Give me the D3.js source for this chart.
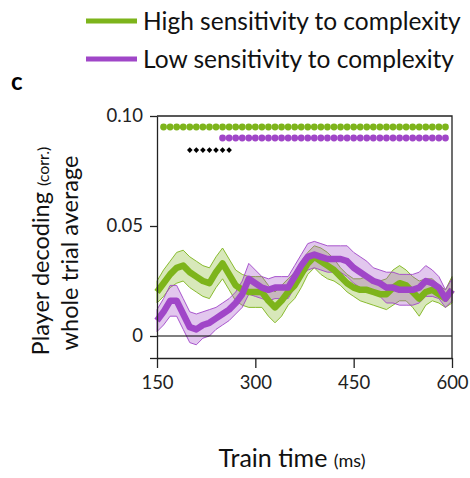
<!DOCTYPE html>
<html>
<head>
<meta charset="utf-8">
<script src="https://cdn.jsdelivr.net/npm/d3@7"></script>
<style>
  body { margin: 0; background: #fff; }
  svg { display: block; font-family: Lato, "Open Sans", sans-serif; }
</style>
</head>
<body>
<div id="chart"></div>
<script>
// train time (ms)
const times = [150, 160, 170, 180, 190, 200, 210, 220, 230, 240, 250, 260, 270, 280, 290, 300,
  310, 320, 330, 340, 350, 360, 370, 380, 390, 400, 410, 420, 430, 440, 450, 460,
  470, 480, 490, 500, 510, 520, 530, 540, 550, 560, 570, 580, 590, 600];

// high sensitivity group: mean and s.e.m.
const highMean = [0.020, 0.024, 0.028, 0.031, 0.032, 0.029, 0.027, 0.025, 0.024, 0.029, 0.033, 0.028,
  0.023, 0.021, 0.020, 0.020, 0.020, 0.016, 0.013, 0.016, 0.020, 0.023, 0.028, 0.033,
  0.036, 0.034, 0.032, 0.030, 0.027, 0.024, 0.022, 0.021, 0.021, 0.020, 0.019, 0.019,
  0.022, 0.024, 0.023, 0.020, 0.017, 0.020, 0.021, 0.019, 0.017, 0.021];
const highSem = [0.005, 0.006, 0.006, 0.007, 0.007, 0.007, 0.007, 0.007, 0.007, 0.007, 0.007, 0.007,
  0.007, 0.007, 0.007, 0.007, 0.007, 0.007, 0.007, 0.007, 0.006, 0.006, 0.006, 0.005,
  0.005, 0.006, 0.006, 0.005, 0.004, 0.004, 0.004, 0.005, 0.006, 0.006, 0.006, 0.007,
  0.008, 0.008, 0.007, 0.007, 0.008, 0.006, 0.005, 0.004, 0.004, 0.006];

// low sensitivity group: mean and s.e.m.
const lowMean = [0.007, 0.011, 0.016, 0.016, 0.010, 0.004, 0.003, 0.005, 0.006, 0.008, 0.010, 0.012,
  0.015, 0.019, 0.026, 0.024, 0.022, 0.021, 0.022, 0.022, 0.022, 0.027, 0.032, 0.036,
  0.037, 0.036, 0.035, 0.035, 0.035, 0.034, 0.031, 0.029, 0.027, 0.025, 0.024, 0.022,
  0.022, 0.021, 0.021, 0.021, 0.022, 0.025, 0.024, 0.022, 0.017, 0.021];
const lowSem = [0.005, 0.006, 0.007, 0.007, 0.007, 0.007, 0.007, 0.006, 0.006, 0.005, 0.005, 0.005,
  0.005, 0.006, 0.007, 0.006, 0.005, 0.005, 0.005, 0.005, 0.005, 0.005, 0.005, 0.006,
  0.006, 0.006, 0.006, 0.006, 0.006, 0.007, 0.007, 0.007, 0.007, 0.006, 0.006, 0.007,
  0.007, 0.007, 0.007, 0.007, 0.007, 0.007, 0.006, 0.005, 0.004, 0.005];

// significant time points
const sigHigh = [160, 170, 180, 190, 200, 210, 220, 230, 240, 250, 260, 270, 280, 290, 300, 310,
  320, 330, 340, 350, 360, 370, 380, 390, 400, 410, 420, 430, 440, 450, 460, 470,
  480, 490, 500, 510, 520, 530, 540, 550, 560, 570, 580, 590];
const sigLow = [250, 260, 270, 280, 290, 300, 310, 320, 330, 340, 350, 360, 370, 380, 390, 400,
  410, 420, 430, 440, 450, 460, 470, 480, 490, 500, 510, 520, 530, 540, 550, 560,
  570, 580, 590];
const sigDiff = [200, 210, 220, 230, 240, 250, 260];

const xTicks = [150, 300, 450, 600];
const yTicks = [-0.01, 0, 0.05, 0.10];
const yTickLabels = ['', '0', '0.05', '0.10'];

const groups = [
  { name: 'High sensitivity to complexity', color: '#7db41b', mean: highMean, sem: highSem },
  { name: 'Low sensitivity to complexity', color: '#a046c8', mean: lowMean, sem: lowSem },
];

const width = 470;
const height = 478;
const margin = { top: 116, right: 18, bottom: 120, left: 157 };

const svg = d3.select('#chart')
  .append('svg')
  .attr('width', width)
  .attr('height', height);

const xScale = d3.scaleLinear()
  .domain([150, 600])
  .range([margin.left, width - margin.right]);

const yScale = d3.scaleLinear()
  .domain([-0.01, 0.10])
  .range([height - margin.bottom, margin.top]);

// bands
groups.forEach((g) => {
  const rows = times.map((t, i) => ({ t, m: g.mean[i], s: g.sem[i] }));
  const area = d3.area()
    .x((d) => xScale(d.t))
    .y0((d) => yScale(d.m - d.s))
    .y1((d) => yScale(d.m + d.s));
  svg.append('path')
    .datum(rows)
    .attr('d', area)
    .attr('fill', g.color)
    .attr('fill-opacity', 0.3)
    .attr('stroke', g.color)
    .attr('stroke-width', 0.9);
});

// mean lines
groups.forEach((g) => {
  const rows = times.map((t, i) => ({ t, m: g.mean[i] }));
  const line = d3.line()
    .x((d) => xScale(d.t))
    .y((d) => yScale(d.m));
  svg.append('path')
    .datum(rows)
    .attr('d', line)
    .attr('fill', 'none')
    .attr('stroke', g.color)
    .attr('stroke-width', 6.5)
    .attr('stroke-linejoin', 'round');
});

// zero line
svg.append('line')
  .attr('x1', xScale(150)).attr('x2', xScale(600))
  .attr('y1', yScale(0)).attr('y2', yScale(0))
  .attr('stroke', '#000').attr('stroke-width', 1.2);

// box top & right
svg.append('path')
  .attr('d', `M${xScale(150)},${yScale(0.10)}H${xScale(600)}V${yScale(-0.01)}`)
  .attr('fill', 'none')
  .attr('stroke', '#222').attr('stroke-width', 1.3);

// significance markers
svg.append('g').selectAll('circle')
  .data(sigHigh)
  .join('circle')
  .attr('cx', (d) => xScale(d))
  .attr('cy', yScale(0.095))
  .attr('r', 3.4)
  .attr('fill', groups[0].color);

svg.append('g').selectAll('circle')
  .data(sigLow)
  .join('circle')
  .attr('cx', (d) => xScale(d))
  .attr('cy', yScale(0.09))
  .attr('r', 3.4)
  .attr('fill', groups[1].color);

svg.append('g').selectAll('path')
  .data(sigDiff)
  .join('path')
  .attr('transform', (d) => `translate(${xScale(d)},${yScale(0.0845)})`)
  .attr('d', d3.symbol(d3.symbolDiamond2, 20))
  .attr('fill', '#000');

// axes
const xAxis = svg.append('g')
  .attr('transform', `translate(0,${yScale(-0.01)})`)
  .call(d3.axisBottom(xScale).tickValues(xTicks).tickSize(10).tickPadding(8).tickSizeOuter(0));

const yAxis = svg.append('g')
  .attr('transform', `translate(${margin.left},0)`)
  .call(d3.axisLeft(yScale).tickValues(yTicks).tickSize(7).tickPadding(7).tickSizeOuter(0)
    .tickFormat((d, i) => yTickLabels[i]));

[xAxis, yAxis].forEach((ax) => {
  ax.select('.domain').attr('stroke', '#222').attr('stroke-width', 1.3);
  ax.selectAll('.tick line').attr('stroke', '#222').attr('stroke-width', 1.3);
  ax.selectAll('.tick text')
    .attr('fill', '#222')
    .style('font-size', '18.5px')
    .style('font-family', 'Lato, sans-serif');
});

// axis titles
const xTitle = svg.append('text')
  .attr('x', 292)
  .attr('y', 467)
  .attr('text-anchor', 'middle')
  .attr('fill', '#111')
  .style('font-size', '25px');
xTitle.append('tspan').text('Train time ');
xTitle.append('tspan').style('font-size', '18px').text('(ms)');

const yTitle = svg.append('text')
  .attr('transform', 'translate(49,251) rotate(-90)')
  .attr('text-anchor', 'middle')
  .attr('fill', '#111')
  .style('font-size', '23.5px');
yTitle.append('tspan').text('Player decoding ');
yTitle.append('tspan').style('font-size', '16px').text('(corr.)');

svg.append('text')
  .attr('transform', 'translate(78,253) rotate(-90)')
  .attr('text-anchor', 'middle')
  .attr('fill', '#111')
  .style('font-size', '23.5px')
  .text('whole trial average');

// panel letter
svg.append('text')
  .attr('x', 11).attr('y', 90)
  .attr('fill', '#000')
  .style('font-size', '24px')
  .style('font-weight', 'bold')
  .text('c');

// legend
const legend = svg.append('g');
groups.forEach((g, i) => {
  const y = 21 + i * 38;
  legend.append('line')
    .attr('x1', 86).attr('x2', 137)
    .attr('y1', y).attr('y2', y)
    .attr('stroke', g.color)
    .attr('stroke-width', 5);
  legend.append('text')
    .attr('x', 143)
    .attr('y', y + 9)
    .attr('fill', '#111')
    .style('font-size', '24.5px')
    .text(g.name);
});
</script>
</body>
</html>
